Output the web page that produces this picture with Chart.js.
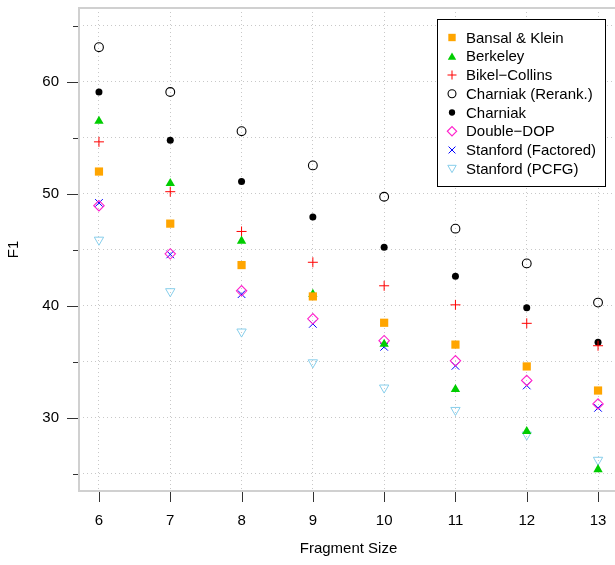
<!DOCTYPE html>
<html>
<head>
<meta charset="utf-8">
<title>F1 by fragment size</title>
<script src="https://cdn.jsdelivr.net/npm/chart.js"></script>
<style>
  html, body { margin: 0; padding: 0; background: #fff; overflow: hidden; }
  #wrap { width: 615px; height: 565px; overflow: hidden; position: relative; }
  canvas { display: block; }
</style>
</head>
<body>
<div id="wrap"><canvas id="f1Chart" width="625" height="565"></canvas></div>
<script>
"use strict";

// values
var fragmentSizes = [6, 7, 8, 9, 10, 11, 12, 13];
var bansalKlein      = [52.0, 47.35, 43.65, 40.85, 38.5, 36.55, 34.6, 32.45];
var berkeley         = [56.5, 50.95, 45.8, 41.05, 36.6, 32.55, 28.8, 25.4];
var bikelCollins     = [54.65, 50.2, 46.65, 43.9, 41.8, 40.1, 38.45, 36.45];
var charniakRerank   = [63.1, 59.1, 55.6, 52.55, 49.75, 46.9, 43.8, 40.3];
var charniak         = [59.1, 54.8, 51.1, 47.95, 45.25, 42.65, 39.85, 36.75];
var doubleDop        = [48.95, 44.65, 41.35, 38.85, 36.9, 35.1, 33.35, 31.25];
var stanfordFactored = [49.2, 44.6, 41.05, 38.4, 36.35, 34.65, 32.9, 30.9];
var stanfordPcfg     = [45.9, 41.3, 37.7, 34.95, 32.7, 30.7, 28.5, 26.25];

var xTicks = [6, 7, 8, 9, 10, 11, 12, 13];
var yTicks = [25, 30, 35, 40, 45, 50, 55, 60, 65];
var yLabelled = [30, 40, 50, 60];

var FONT = "'Liberation Sans', Arial, Helvetica, sans-serif";

function pts(values) {
  return fragmentSizes.map(function (x, i) { return { x: x, y: values[i] }; });
}

var datasets = [
  { label: 'Bansal & Klein', data: pts(bansalKlein), pointStyle: 'rect', pointRadius: 5.8,
    backgroundColor: '#FFA500', borderColor: '#FFA500', borderWidth: 0 },
  { label: 'Berkeley', data: pts(berkeley), pointStyle: 'triangle', pointRadius: 5.4,
    backgroundColor: '#00CD00', borderColor: '#00CD00', borderWidth: 0 },
  { label: 'Bikel\u2212Collins', data: pts(bikelCollins), pointStyle: 'cross', pointRadius: 5,
    backgroundColor: 'rgba(0,0,0,0)', borderColor: '#FF0000', borderWidth: 1 },
  { label: 'Charniak (Rerank.)', data: pts(charniakRerank), pointStyle: 'circle', pointRadius: 4.4,
    backgroundColor: 'rgba(0,0,0,0)', borderColor: '#000000', borderWidth: 1.1 },
  { label: 'Charniak', data: pts(charniak), pointStyle: 'circle', pointRadius: 3.5,
    backgroundColor: '#000000', borderColor: '#000000', borderWidth: 0 },
  { label: 'Double\u2212DOP', data: pts(doubleDop), pointStyle: 'rectRot', pointRadius: 5.2,
    backgroundColor: 'rgba(0,0,0,0)', borderColor: '#FF22CC', borderWidth: 1.1 },
  { label: 'Stanford (Factored)', data: pts(stanfordFactored), pointStyle: 'crossRot', pointRadius: 5.4,
    backgroundColor: 'rgba(0,0,0,0)', borderColor: '#0000FF', borderWidth: 1 },
  { label: 'Stanford (PCFG)', data: pts(stanfordPcfg), pointStyle: 'triangle', pointRotation: 180, pointRadius: 5.4,
    backgroundColor: 'rgba(0,0,0,0)', borderColor: '#87CEEB', borderWidth: 1 }
];

// R-like frame, outer tick marks and the boxed legend
var rDecorations = {
  id: 'rDecorations',
  beforeDatasetsDraw: function (chart) {
    var ctx = chart.ctx, a = chart.chartArea;
    var xs = chart.scales.x, ys = chart.scales.y;
    ctx.save();
    ctx.strokeStyle = '#d0d0d0';
    ctx.lineWidth = 2;
    ctx.strokeRect(a.left, a.top, a.right - a.left, a.bottom - a.top);

    ctx.strokeStyle = '#333';
    ctx.lineWidth = 1;
    ctx.beginPath();
    yTicks.forEach(function (v) {
      var py = Math.round(ys.getPixelForValue(v)) + 0.5;
      var len = yLabelled.indexOf(v) >= 0 ? 11 : 5;
      ctx.moveTo(a.left - len - 1, py);
      ctx.lineTo(a.left - 1, py);
    });
    xTicks.forEach(function (v) {
      var px = Math.round(xs.getPixelForValue(v)) + 0.5;
      ctx.moveTo(px, a.bottom + 1);
      ctx.lineTo(px, a.bottom + 11);
    });
    ctx.stroke();
    ctx.restore();
  },
  afterDraw: function (chart) {
    var ctx = chart.ctx;
    var box = { x: 437.5, y: 19.5, w: 168, h: 167 };
    ctx.save();
    ctx.fillStyle = '#fff';
    ctx.fillRect(box.x, box.y, box.w, box.h);
    ctx.strokeStyle = '#000';
    ctx.lineWidth = 1;
    ctx.strokeRect(box.x, box.y, box.w, box.h);

    ctx.font = '15px ' + FONT;
    ctx.textBaseline = 'middle';
    chart.data.datasets.forEach(function (ds, i) {
      var y = 37.5 + i * 18.75;
      ctx.fillStyle = ds.backgroundColor;
      ctx.strokeStyle = ds.borderColor;
      ctx.lineWidth = ds.borderWidth;
      Chart.helpers.drawPoint(ctx, {
        pointStyle: ds.pointStyle,
        radius: ds.pointRadius * 0.9,
        rotation: ds.pointRotation || 0,
        borderWidth: ds.borderWidth
      }, 452, y + (ds.pointStyle === 'triangle' ? (ds.pointRotation ? -1 : 1) : 0));
      ctx.fillStyle = '#000';
      ctx.fillText(ds.label, 466, y + 1);
    });
    ctx.restore();
  }
};

new Chart(document.getElementById('f1Chart').getContext('2d'), {
  type: 'scatter',
  data: { datasets: datasets },
  plugins: [rDecorations],
  options: {
    responsive: false,
    animation: false,
    devicePixelRatio: 1,
    layout: { padding: { top: 8, right: 7, left: 0, bottom: 0 } },
    plugins: {
      legend: { display: false },
      tooltip: { enabled: false }
    },
    scales: {
      x: {
        type: 'linear',
        min: 5.72,
        max: 13.28,
        afterBuildTicks: function (s) { s.ticks = xTicks.map(function (v) { return { value: v }; }); },
        afterFit: function (s) { s.height = 74; s.paddingLeft = 0; s.paddingRight = 0; },
        grid: { color: '#c8c8c8', lineWidth: 1, drawTicks: false },
        border: { display: false, dash: [1, 3] },
        ticks: { color: '#000', padding: 21, font: { family: FONT, size: 15 }, maxRotation: 0 },
        title: { display: true, text: 'Fragment Size', color: '#000',
                 font: { family: FONT, size: 15 }, padding: { top: 0, bottom: 7 } }
      },
      y: {
        type: 'linear',
        min: 23.48,
        max: 66.6,
        afterBuildTicks: function (s) { s.ticks = yTicks.map(function (v) { return { value: v }; }); },
        afterFit: function (s) { s.width = 79; s.paddingTop = 0; s.paddingBottom = 0; },
        grid: { color: '#c8c8c8', lineWidth: 1, drawTicks: false },
        border: { display: false, dash: [1, 3] },
        ticks: {
          color: '#000', padding: 20, font: { family: FONT, size: 15 },
          callback: function (v) { return yLabelled.indexOf(v) >= 0 ? String(v) : ''; }
        },
        title: { display: true, text: 'F1', color: '#000',
                 font: { family: FONT, size: 15 }, padding: { top: 5, bottom: 0 } }
      }
    }
  }
});
</script>
</body>
</html>
